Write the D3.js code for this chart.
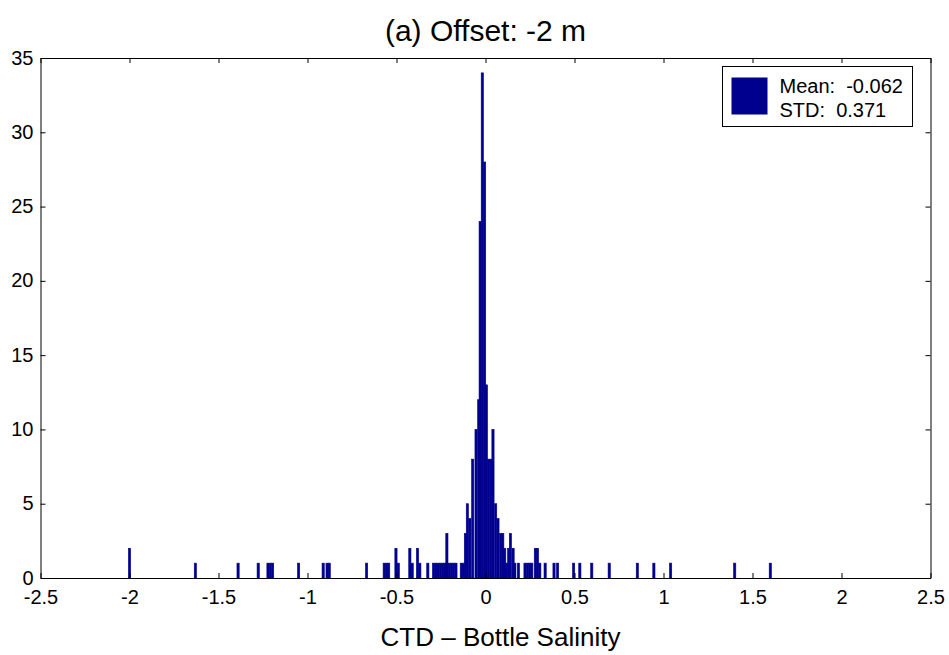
<!DOCTYPE html>
<html>
<head>
<meta charset="utf-8">
<script src="https://cdn.jsdelivr.net/npm/d3@7"></script>
<style>
  body { margin: 0; background: #fff; }
  text { font-family: "Liberation Sans", Arial, sans-serif; }
</style>
</head>
<body>
<div id="chart"></div>
<script>
// histogram bins: centre of each bin (salinity difference) and its count
var binCenters = [-2.0, -1.63, -1.39, -1.277, -1.222, -1.209, -1.196, -1.05, -0.912, -0.89, -0.878,
  -0.668, -0.569, -0.556, -0.544, -0.503, -0.49, -0.425, -0.412, -0.382, -0.369, -0.324,
  -0.292, -0.279, -0.266, -0.253, -0.24, -0.228, -0.217, -0.204, -0.191, -0.179, -0.166,
  -0.136, -0.124, -0.113, -0.102, -0.088, -0.072, -0.053, -0.038, -0.030, -0.018, -0.005,
  0.005, 0.017, 0.03, 0.042, 0.057, 0.07, 0.085, 0.097, 0.108, 0.118, 0.13, 0.14, 0.155,
  0.165, 0.185, 0.222, 0.235, 0.248, 0.26, 0.28, 0.292, 0.305, 0.335, 0.385, 0.405, 0.495,
  0.53, 0.597, 0.695, 0.853, 0.946, 1.04, 1.4, 1.6];
var binCounts = [2, 1, 1, 1, 1, 1, 1, 1, 1, 1, 1,
  1, 1, 1, 1, 2, 1, 2, 1, 2, 1, 1,
  1, 1, 1, 1, 1, 1, 3, 1, 1, 1, 1,
  1, 1, 3, 5, 4, 8, 10, 12, 24, 34, 28,
  13, 8, 8, 10, 5, 4, 3, 3, 2, 1, 2, 3, 2,
  1, 1, 1, 1, 1, 1, 2, 2, 1, 1, 1, 1, 1,
  1, 1, 1, 1, 1, 1, 1, 1];
var binWidth = 0.0125;

var xTicks = [-2.5, -2, -1.5, -1, -0.5, 0, 0.5, 1, 1.5, 2, 2.5];
var yTicks = [0, 5, 10, 15, 20, 25, 30, 35];
var legendLines = ["Mean:  -0.062", "STD:  0.371"];

var W = 949, H = 655;
var margin = { top: 58, right: 18.5, bottom: 77, left: 40.5 };
var width = W - margin.left - margin.right;
var height = H - margin.top - margin.bottom;
var barColor = "#00008f";

var svg = d3.select("#chart").append("svg")
  .attr("width", W)
  .attr("height", H);

var g = svg.append("g")
  .attr("transform", "translate(" + margin.left + "," + margin.top + ")");

var x = d3.scaleLinear().domain([-2.5, 2.5]).range([0, width]);
var y = d3.scaleLinear().domain([0, 35]).range([height, 0]);

var data = binCenters.map(function (c, i) { return { c: c, n: binCounts[i] }; });

g.selectAll("rect.bar")
  .data(data)
  .enter().append("rect")
  .attr("class", "bar")
  .attr("x", function (d) { return x(d.c - binWidth / 2); })
  .attr("width", function (d) { return x(d.c + binWidth / 2) - x(d.c - binWidth / 2); })
  .attr("y", function (d) { return y(d.n); })
  .attr("height", function (d) { return y(0) - y(d.n); })
  .attr("fill", barColor)
  .attr("stroke", barColor)
  .attr("stroke-width", 0.6);

// plain hyphen for negatives, like the original
var fmt = function (d) { return String(d); };

// axes, MATLAB style (ticks inside, box around)
var xAxis = g.append("g")
  .attr("transform", "translate(0," + height + ")")
  .call(d3.axisBottom(x).tickValues(xTicks).tickSizeInner(-5).tickSizeOuter(0).tickFormat(fmt));
xAxis.selectAll("text").attr("dy", "0.71em").attr("y", 12).style("font-size", "20px").attr("fill", "#000");

var yAxis = g.append("g")
  .call(d3.axisLeft(y).tickValues(yTicks).tickSizeInner(-5).tickSizeOuter(0).tickFormat(fmt));
yAxis.selectAll("text").attr("x", -7).attr("dy", "0.3em").style("font-size", "20px").attr("fill", "#000");

g.append("g")
  .call(d3.axisTop(x).tickValues(xTicks).tickSizeInner(-5).tickSizeOuter(0).tickFormat(""));
g.append("g")
  .attr("transform", "translate(" + width + ",0)")
  .call(d3.axisRight(y).tickValues(yTicks).tickSizeInner(-5).tickSizeOuter(0).tickFormat(""));

g.selectAll(".domain").attr("stroke", "#000");
g.selectAll(".tick line").attr("stroke", "#000");

// title and label
svg.append("text")
  .attr("x", margin.left + width / 2)
  .attr("y", 41)
  .attr("text-anchor", "middle")
  .style("font-size", "30px")
  .text("(a) Offset: -2 m");

svg.append("text")
  .attr("x", margin.left + width / 2 + 15)
  .attr("y", 646)
  .attr("text-anchor", "middle")
  .style("font-size", "26px")
  .text("CTD \u2013 Bottle Salinity");

// legend
var lg = svg.append("g").attr("transform", "translate(722.5,66.5)");
lg.append("rect")
  .attr("width", 190).attr("height", 60)
  .attr("fill", "#fff").attr("stroke", "#000");
lg.append("rect")
  .attr("x", 9).attr("y", 11).attr("width", 36).attr("height", 37)
  .attr("fill", barColor);
lg.selectAll("text.leg")
  .data(legendLines)
  .enter().append("text")
  .attr("class", "leg")
  .attr("x", 57)
  .attr("y", function (d, i) { return 26 + i * 24; })
  .style("font-size", "20px")
  .style("white-space", "pre")
  .text(function (d) { return d; });
</script>
</body>
</html>
